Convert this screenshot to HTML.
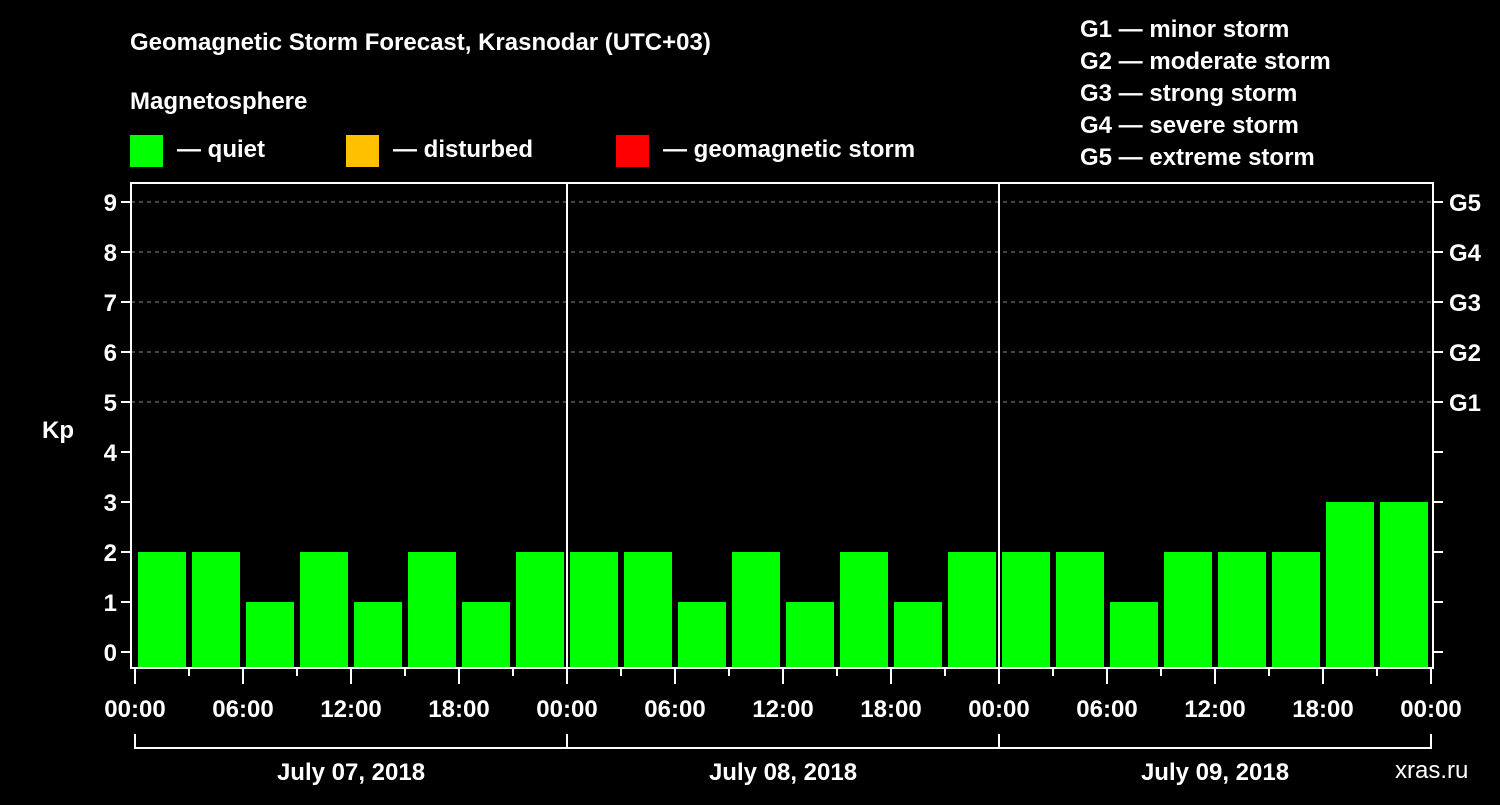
<!DOCTYPE html>
<html><head><meta charset="utf-8"><style>
body{margin:0;background:#000;}
svg text{font-family:"Liberation Sans",Arial,sans-serif;font-weight:bold;fill:#fff;}
</style></head><body>
<svg width="1500" height="800" viewBox="0 0 1500 800">
<rect width="1500" height="800" fill="#000"/>
<text x="130" y="50" font-size="24">Geomagnetic Storm Forecast, Krasnodar (UTC+03)</text>
<text x="130" y="109" font-size="24">Magnetosphere</text>
<g><rect x="130" y="135" width="33" height="32" fill="#00ff00"/><text x="177" y="157" font-size="24">— quiet</text></g>
<g><rect x="346" y="135" width="33" height="32" fill="#ffc000"/><text x="393" y="157" font-size="24">— disturbed</text></g>
<g><rect x="616" y="135" width="33" height="32" fill="#ff0000"/><text x="663" y="157" font-size="24">— geomagnetic storm</text></g>
<g font-size="24">
<text x="1080" y="37">G1 — minor storm</text>
<text x="1080" y="69">G2 — moderate storm</text>
<text x="1080" y="101">G3 — strong storm</text>
<text x="1080" y="133">G4 — severe storm</text>
<text x="1080" y="165">G5 — extreme storm</text>
</g>
<text x="42" y="438" font-size="24">Kp</text>
<text x="1395" y="778" font-size="24" fill="#fff" style="font-weight:normal">xras.ru</text>
<g id="grid"></g><g id="bars"></g><g id="axes"></g>
</svg>
<script>
const kpValues=[2,2,1,2,1,2,1,2, 2,2,1,2,1,2,1,2, 2,2,1,2,2,2,3,3];
const dayLabels=["July 07, 2018","July 08, 2018","July 09, 2018"];
const gLabels=["G1","G2","G3","G4","G5"];
const hourLabels=["00:00","06:00","12:00","18:00"];
const NS="http://www.w3.org/2000/svg";
const x0=135,pxH=18,y0=652,pxK=50,L=131,R=1433,T=183,B=668;
const X=h=>x0+h*pxH, Y=k=>y0-k*pxK;
function mk(t,a,p){const e=document.createElementNS(NS,t);for(const k in a)e.setAttribute(k,a[k]);p.appendChild(e);return e;}
const grid=document.getElementById('grid'),bars=document.getElementById('bars'),axes=document.getElementById('axes');
for(let k=5;k<=9;k++){const l=mk('line',{x1:L,x2:R,y1:Y(k),y2:Y(k),stroke:'#888','stroke-dasharray':'4,4','stroke-width':1},grid);

}
kpValues.forEach((v,i)=>{const c=v>=5?'#ff0000':(v>=4?'#ffc000':'#00ff00');
const r=mk('rect',{x:X(i*3)+3,y:Y(v),width:3*pxH-6,height:B-Y(v),fill:c},bars);

});
for(let d=1;d<dayLabels.length;d++){mk('line',{x1:X(d*24),x2:X(d*24),y1:T,y2:B,stroke:'#fff','stroke-width':2},axes);}
mk('rect',{x:L,y:T,width:R-L,height:B-T,fill:'none',stroke:'#fff','stroke-width':2},axes);
for(let k=0;k<=9;k++){mk('line',{x1:L-10,x2:L,y1:Y(k),y2:Y(k),stroke:'#fff','stroke-width':2},axes);
mk('line',{x1:R,x2:R+10,y1:Y(k),y2:Y(k),stroke:'#fff','stroke-width':2},axes);
const t=mk('text',{x:L-14,y:Y(k)+9,'text-anchor':'end','font-size':24},axes);t.textContent=k;

}
gLabels.forEach((g,i)=>{const t=mk('text',{x:R+16,y:Y(i+5)+9,'font-size':24},axes);t.textContent=g;

});
const totalH=dayLabels.length*24;
for(let h=0;h<=totalH;h+=3){const major=h%6==0;mk('line',{x1:X(h),x2:X(h),y1:B,y2:B+(major?16:8),stroke:'#fff','stroke-width':2},axes);
if(major){const t=mk('text',{x:X(h),y:B+49,'text-anchor':'middle','font-size':24},axes);t.textContent=hourLabels[(h/6)%4];

}}
mk('line',{x1:X(0),x2:X(totalH),y1:748,y2:748,stroke:'#fff','stroke-width':2},axes);
for(let d=0;d<=dayLabels.length;d++)mk('line',{x1:X(d*24),x2:X(d*24),y1:734,y2:749,stroke:'#fff','stroke-width':2},axes);
dayLabels.forEach((s,d)=>{const t=mk('text',{x:X(d*24+12),y:780,'text-anchor':'middle','font-size':24},axes);t.textContent=s;

});
</script>
</body></html>
